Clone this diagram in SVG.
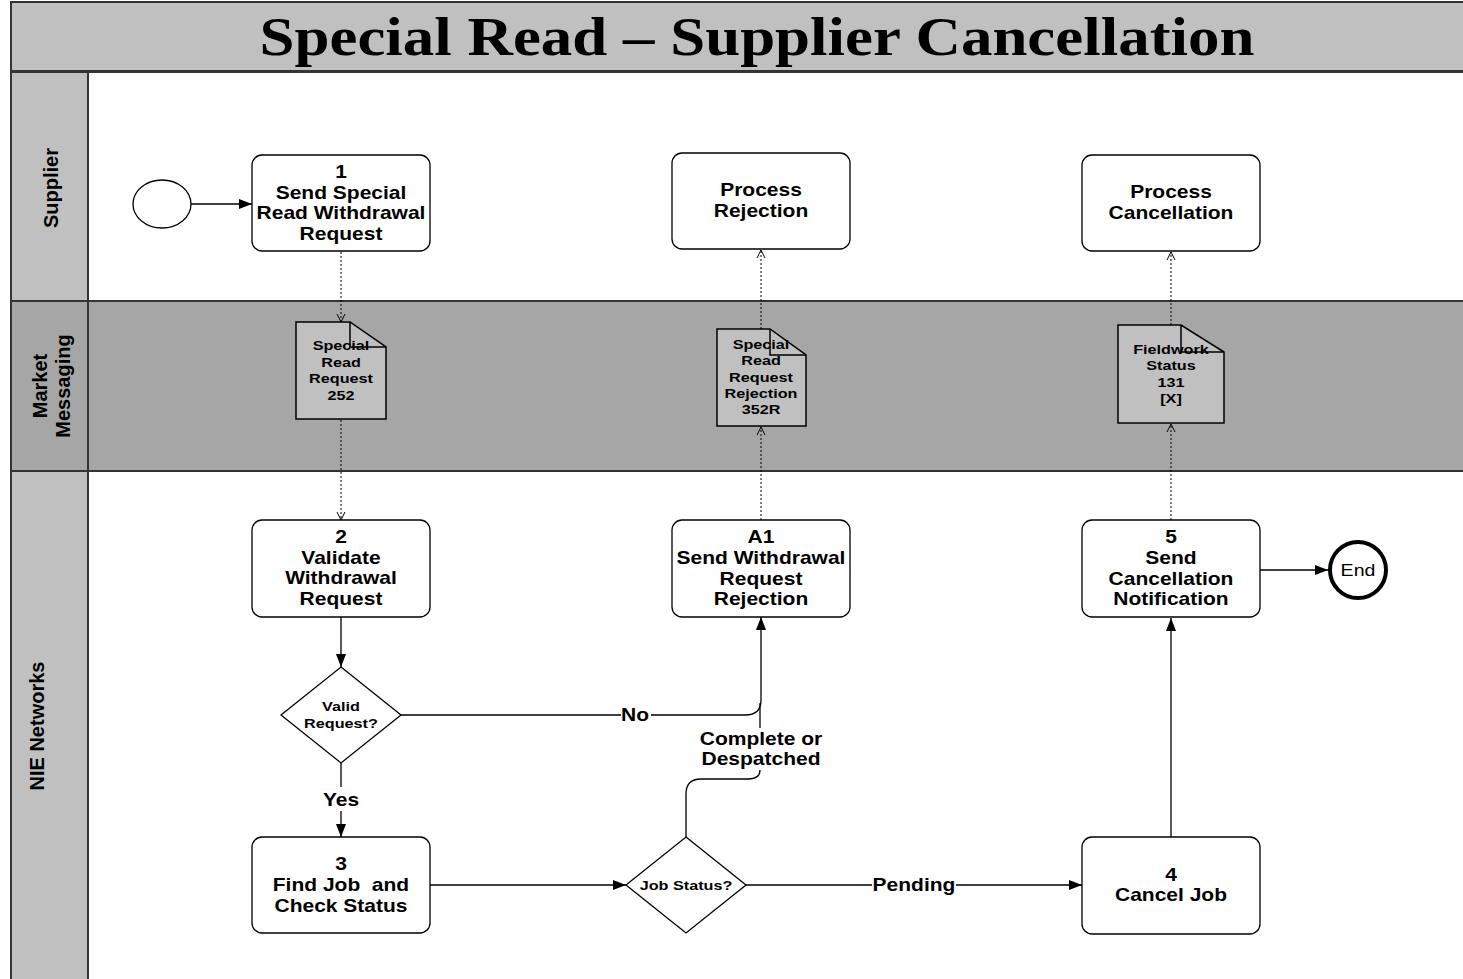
<svg xmlns="http://www.w3.org/2000/svg" width="1463" height="979" viewBox="0 0 1463 979">
  <defs>
    <style>
      .lbl { font-family: "Liberation Sans", Arial, sans-serif; font-weight: bold; fill: #000; text-anchor: middle; }
      .t17 { font-size: 17.5px; }
      .t13 { font-size: 13.5px; }
      .lane { font-family: "Liberation Sans", Arial, sans-serif; font-weight: bold; font-size: 20px; text-anchor: middle; }
      .box { fill: #fff; stroke: #000; stroke-width: 1.3; }
      .doc { fill: #c0c0c0; stroke: #000; stroke-width: 1.5; }
      .flow { fill: none; stroke: #000; stroke-width: 1.3; }
      .msg { fill: none; stroke: #000; stroke-width: 1; stroke-dasharray: 2 2; }
    </style>
    <marker id="arr" viewBox="0 0 13 10" refX="13" refY="5" markerWidth="13" markerHeight="10" markerUnits="userSpaceOnUse" orient="auto">
      <path d="M0,0 L13,5 L0,10 Z" fill="#000"/>
    </marker>
    <marker id="open" viewBox="0 0 8 10" refX="8" refY="5" markerWidth="8" markerHeight="10" markerUnits="userSpaceOnUse" orient="auto">
      <path d="M0,1 L8,5 L0,9" fill="none" stroke="#000" stroke-width="1"/>
    </marker>
  </defs>

  <!-- background and title -->
  <rect x="0" y="0" width="1463" height="979" fill="#fff"/>
  <rect x="11" y="2" width="1460" height="69" fill="#c0c0c0" stroke="#333" stroke-width="2"/>
  <text x="757" y="55" font-family="'Liberation Serif', 'Times New Roman', serif" font-weight="bold" font-size="55" text-anchor="middle" textLength="995" lengthAdjust="spacingAndGlyphs">Special Read – Supplier Cancellation</text>

  <!-- swimlanes -->
  <g id="lanes">
    <rect x="88" y="72" width="1380" height="229" fill="#fff" stroke="#333" stroke-width="2"/>
    <rect x="88" y="301" width="1380" height="170" fill="#a6a6a6" stroke="#333" stroke-width="2"/>
    <rect x="88" y="471" width="1380" height="512" fill="#fff" stroke="#333" stroke-width="2"/>
    <rect x="11" y="72" width="77" height="229" fill="#c0c0c0" stroke="#333" stroke-width="2"/>
    <rect x="11" y="301" width="77" height="170" fill="#a6a6a6" stroke="#333" stroke-width="2"/>
    <rect x="11" y="471" width="77" height="512" fill="#c0c0c0" stroke="#333" stroke-width="2"/>
    <text class="lane" transform="translate(58,188) rotate(-90)">Supplier</text>
    <text class="lane" transform="translate(47,386) rotate(-90)">Market</text>
    <text class="lane" transform="translate(70,386) rotate(-90)">Messaging</text>
    <text class="lane" transform="translate(44,726) rotate(-90)">NIE Networks</text>
  </g>

  <!-- connectors -->
  <g id="connectors">
    <line class="flow" x1="191" y1="204" x2="252" y2="204" marker-end="url(#arr)"/>
    <line class="msg" x1="341" y1="252" x2="341" y2="322" marker-end="url(#open)"/>
    <line class="msg" x1="341" y1="420" x2="341" y2="520" marker-end="url(#open)"/>
    <line class="flow" x1="341" y1="617" x2="341" y2="667" marker-end="url(#arr)"/>
    <line class="flow" x1="341" y1="763" x2="341" y2="787"/>
    <line class="flow" x1="341" y1="811" x2="341" y2="837" marker-end="url(#arr)"/>
    <path class="flow" d="M401,715 H621 M651,715 H745 Q761,715 761,700 V617" marker-end="url(#arr)"/>
    <path class="flow" d="M686,837 V794 Q686,779 701,779 H748 Q760,779 760,770"/>
    <line class="flow" x1="760" y1="728" x2="760" y2="703"/>
    <line class="flow" x1="430" y1="885" x2="626" y2="885" marker-end="url(#arr)"/>
    <path class="flow" d="M746,885 H872 M956,885 H1082" marker-end="url(#arr)"/>
    <line class="flow" x1="1171" y1="837" x2="1171" y2="618" marker-end="url(#arr)"/>
    <line class="flow" x1="1260" y1="570" x2="1328" y2="570" marker-end="url(#arr)"/>
    <line class="msg" x1="761" y1="520" x2="761" y2="427" marker-end="url(#open)"/>
    <line class="msg" x1="761" y1="329" x2="761" y2="250" marker-end="url(#open)"/>
    <line class="msg" x1="1171" y1="520" x2="1171" y2="424" marker-end="url(#open)"/>
    <line class="msg" x1="1171" y1="325" x2="1171" y2="252" marker-end="url(#open)"/>
    <text class="lbl t17" transform="matrix(1.2,0,0,1,-127,0)" x="635" y="721">No</text>
    <text class="lbl t17" transform="matrix(1.2,0,0,1,-68.2,0)" x="341" y="806">Yes</text>
    <text class="lbl t17" transform="matrix(1.2,0,0,1,-182.8,0)" x="914" y="891">Pending</text>
    <g transform="matrix(1.2,0,0,1,-152.2,0)">
      <text class="lbl t17" x="761" y="745">Complete or</text>
      <text class="lbl t17" x="761" y="765">Despatched</text>
    </g>
  </g>

  <!-- start / end events -->
  <g id="start">
    <ellipse cx="162" cy="204" rx="29" ry="24" fill="#fff" stroke="#000" stroke-width="1.3"/>
  </g>
  <g id="end">
    <circle cx="1358" cy="570" r="28" fill="#fff" stroke="#000" stroke-width="4"/>
    <text x="1358" y="576" font-family="'Liberation Sans', Arial, sans-serif" font-size="17" text-anchor="middle" transform="matrix(1.15,0,0,1,-203.7,0)">End</text>
  </g>

  <!-- supplier tasks -->
  <g id="task1">
    <rect class="box" x="252" y="155" width="178" height="96" rx="10"/>
    <g transform="matrix(1.2,0,0,1,-68.2,0)">
      <text class="lbl t17" x="341" y="178">1</text>
      <text class="lbl t17" x="341" y="199">Send Special</text>
      <text class="lbl t17" x="341" y="219">Read Withdrawal</text>
      <text class="lbl t17" x="341" y="240">Request</text>
    </g>
  </g>
  <g id="processRejection">
    <rect class="box" x="672" y="153" width="178" height="96" rx="10"/>
    <g transform="matrix(1.2,0,0,1,-152.2,0)">
      <text class="lbl t17" x="761" y="196">Process</text>
      <text class="lbl t17" x="761" y="217">Rejection</text>
    </g>
  </g>
  <g id="processCancellation">
    <rect class="box" x="1082" y="155" width="178" height="96" rx="10"/>
    <g transform="matrix(1.2,0,0,1,-234.2,0)">
      <text class="lbl t17" x="1171" y="198">Process</text>
      <text class="lbl t17" x="1171" y="219">Cancellation</text>
    </g>
  </g>

  <!-- market messages -->
  <g id="msg252">
    <path class="doc" d="M296,322 H350 L386,347 V419 H296 Z"/>
    <path d="M350,322 V347 H386" fill="none" stroke="#000" stroke-width="1.5"/>
    <g transform="matrix(1.2,0,0,1,-68.2,0)">
      <text class="lbl t13" x="341" y="350">Special</text>
      <text class="lbl t13" x="341" y="367">Read</text>
      <text class="lbl t13" x="341" y="383">Request</text>
      <text class="lbl t13" x="341" y="400">252</text>
    </g>
  </g>
  <g id="msg352R">
    <path class="doc" d="M717,329 H770 L806,355 V426 H717 Z"/>
    <path d="M770,329 V355 H806" fill="none" stroke="#000" stroke-width="1.5"/>
    <g transform="matrix(1.2,0,0,1,-152.2,0)">
      <text class="lbl t13" x="761" y="349">Special</text>
      <text class="lbl t13" x="761" y="365">Read</text>
      <text class="lbl t13" x="761" y="382">Request</text>
      <text class="lbl t13" x="761" y="398">Rejection</text>
      <text class="lbl t13" x="761" y="414">352R</text>
    </g>
  </g>
  <g id="msg131">
    <path class="doc" d="M1118,325 H1181 L1224,352 V423 H1118 Z"/>
    <path d="M1181,325 V352 H1224" fill="none" stroke="#000" stroke-width="1.5"/>
    <g transform="matrix(1.2,0,0,1,-234.2,0)">
      <text class="lbl t13" x="1171" y="354">Fieldwork</text>
      <text class="lbl t13" x="1171" y="370">Status</text>
      <text class="lbl t13" x="1171" y="387">131</text>
      <text class="lbl t13" x="1171" y="403">[X]</text>
    </g>
  </g>

  <!-- NIE Networks tasks -->
  <g id="task2">
    <rect class="box" x="252" y="520" width="178" height="97" rx="10"/>
    <g transform="matrix(1.2,0,0,1,-68.2,0)">
      <text class="lbl t17" x="341" y="543">2</text>
      <text class="lbl t17" x="341" y="564">Validate</text>
      <text class="lbl t17" x="341" y="584">Withdrawal</text>
      <text class="lbl t17" x="341" y="605">Request</text>
    </g>
  </g>
  <g id="taskA1">
    <rect class="box" x="672" y="520" width="178" height="97" rx="10"/>
    <g transform="matrix(1.2,0,0,1,-152.2,0)">
      <text class="lbl t17" x="761" y="543">A1</text>
      <text class="lbl t17" x="761" y="564">Send Withdrawal</text>
      <text class="lbl t17" x="761" y="585">Request</text>
      <text class="lbl t17" x="761" y="605">Rejection</text>
    </g>
  </g>
  <g id="task5">
    <rect class="box" x="1082" y="520" width="178" height="97" rx="10"/>
    <g transform="matrix(1.2,0,0,1,-234.2,0)">
      <text class="lbl t17" x="1171" y="543">5</text>
      <text class="lbl t17" x="1171" y="564">Send</text>
      <text class="lbl t17" x="1171" y="585">Cancellation</text>
      <text class="lbl t17" x="1171" y="605">Notification</text>
    </g>
  </g>
  <g id="validRequest">
    <polygon class="box" points="341,667 401,715 341,763 281,715"/>
    <g transform="matrix(1.2,0,0,1,-68.2,0)">
      <text class="lbl t13" x="341" y="711">Valid</text>
      <text class="lbl t13" x="341" y="728">Request?</text>
    </g>
  </g>
  <g id="task3">
    <rect class="box" x="252" y="837" width="178" height="96" rx="10"/>
    <g transform="matrix(1.2,0,0,1,-68.2,0)">
      <text class="lbl t17" x="341" y="870">3</text>
      <text class="lbl t17" x="341" y="891" xml:space="preserve">Find Job  and</text>
      <text class="lbl t17" x="341" y="912">Check Status</text>
    </g>
  </g>
  <g id="jobStatus">
    <polygon class="box" points="686,837 746,885 686,933 626,885"/>
    <g transform="matrix(1.2,0,0,1,-137.2,0)">
      <text class="lbl t13" x="686" y="890">Job Status?</text>
    </g>
  </g>
  <g id="task4">
    <rect class="box" x="1082" y="837" width="178" height="97" rx="10"/>
    <g transform="matrix(1.2,0,0,1,-234.2,0)">
      <text class="lbl t17" x="1171" y="881">4</text>
      <text class="lbl t17" x="1171" y="901">Cancel Job</text>
    </g>
  </g>
</svg>
